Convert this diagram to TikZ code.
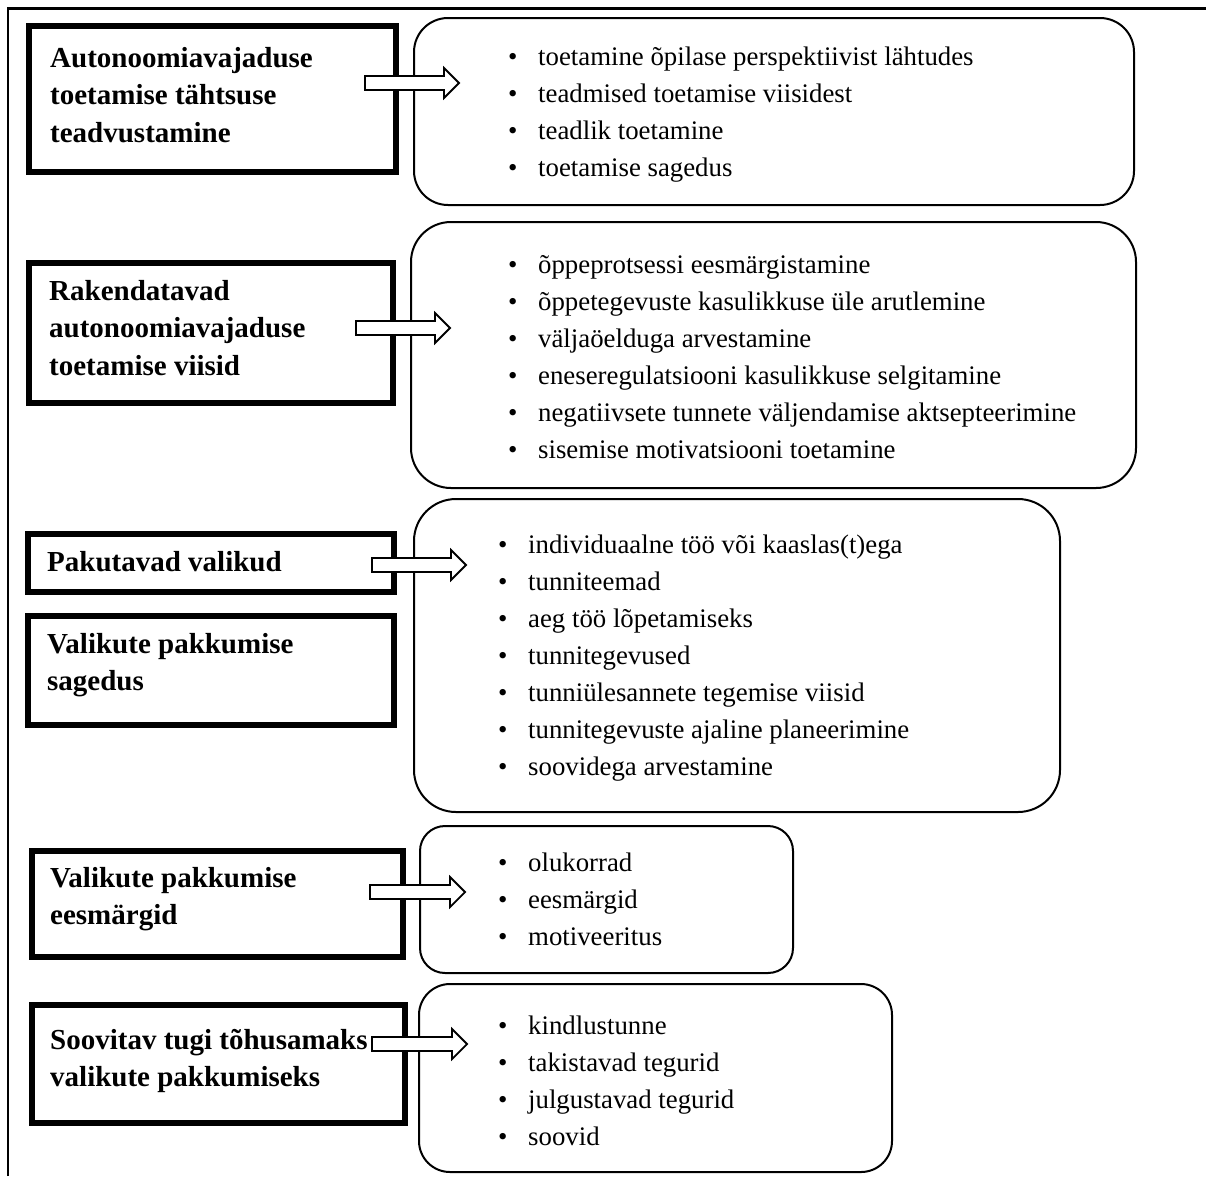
\documentclass[tikz,border=0pt]{standalone}
\usepackage{fontspec}
\setmainfont{Liberation Serif}
\usetikzlibrary{calc}
\tikzset{
  thickbox/.style={draw, line width=6pt, anchor=north west, inner sep=0pt},
  roundbox/.style={draw, line width=2pt, rounded corners=#1, anchor=north west, inner sep=0pt},
  blockarrow/.style={draw, line width=1.8pt, fill=white, line join=miter},
  headtext/.style={font=\fontsize{29}{37.5}\selectfont\bfseries, anchor=base west, inner sep=0pt},
  itemtext/.style={font=\fontsize{26.8}{37}\selectfont, anchor=base west, inner sep=0pt},
  frame/.style={line width=2.2pt}
}
\newcommand\blockarr[2]{%
  \draw[blockarrow] ($(#1)+(0,-7)$) -- ($(#2)+(-15,-7)$) -- ($(#2)+(-15,-15)$) -- (#2)
    -- ($(#2)+(-15,15)$) -- ($(#2)+(-15,7)$) -- ($(#1)+(0,7)$) -- cycle;}
\begin{document}
\begin{tikzpicture}[x=1pt,y=-1pt]
\useasboundingbox (0,0) rectangle (1206,1176);
% outer frame
\draw[frame] (8,1176) -- (8,8.5) -- (1206,8.5);

% thick boxes
\node[thickbox, minimum width=367, minimum height=146] (b1) at (26,23) {};
\node[thickbox, minimum width=364, minimum height=140] (b2) at (26,260) {};
\node[thickbox, minimum width=366, minimum height=58] (b3) at (25,531) {};
\node[thickbox, minimum width=366, minimum height=109] (b4) at (25,613) {};
\node[thickbox, minimum width=371, minimum height=106] (b5) at (29,848) {};
\node[thickbox, minimum width=373, minimum height=118] (b6) at (29,1002) {};

% rounded boxes
\node[roundbox=34, minimum width=720, minimum height=187] (r1) at (413,17) {};
\node[roundbox=40, minimum width=725, minimum height=266] (r2) at (410,221) {};
\node[roundbox=42, minimum width=646, minimum height=313] (r3) at (413,498) {};
\node[roundbox=25, minimum width=373, minimum height=147] (r4) at (419,825) {};
\node[roundbox=31, minimum width=473, minimum height=188] (r5) at (418,983) {};

% heading texts
\node[headtext] (t1) at (50,67) {\begin{tabular}[t]{@{}l@{}}Autonoomiavajaduse\\toetamise tähtsuse\\teadvustamine\end{tabular}};
\node[headtext] (t2) at (49,300) {\begin{tabular}[t]{@{}l@{}}Rakendatavad\\autonoomiavajaduse\\toetamise viisid\end{tabular}};
\node[headtext] (t3) at (47,571) {Pakutavad valikud};
\node[headtext] (t4) at (47,653) {\begin{tabular}[t]{@{}l@{}}Valikute pakkumise\\sagedus\end{tabular}};
\node[headtext] (t5) at (50,887) {\begin{tabular}[t]{@{}l@{}}Valikute pakkumise\\eesmärgid\end{tabular}};
\node[headtext] (t6) at (50,1049) {\begin{tabular}[t]{@{}l@{}}Soovitav tugi tõhusamaks\\valikute pakkumiseks\end{tabular}};

% item lists
\node[itemtext] (l1) at (508,65.5) {\begin{tabular}[t]{@{}p{30pt}@{}l@{}}
•& toetamine õpilase perspektiivist lähtudes\\
•& teadmised toetamise viisidest\\
•& teadlik toetamine\\
•& toetamise sagedus\end{tabular}};
\node[itemtext] (l2) at (508,273.5) {\begin{tabular}[t]{@{}p{30pt}@{}l@{}}
•& õppeprotsessi eesmärgistamine\\
•& õppetegevuste kasulikkuse üle arutlemine\\
•& väljaöelduga arvestamine\\
•& eneseregulatsiooni kasulikkuse selgitamine\\
•& negatiivsete tunnete väljendamise aktsepteerimine\\
•& sisemise motivatsiooni toetamine\end{tabular}};
\node[itemtext] (l3) at (498,553.5) {\begin{tabular}[t]{@{}p{30pt}@{}l@{}}
•& individuaalne töö või kaaslas(t)ega\\
•& tunniteemad\\
•& aeg töö lõpetamiseks\\
•& tunnitegevused\\
•& tunniülesannete tegemise viisid\\
•& tunnitegevuste ajaline planeerimine\\
•& soovidega arvestamine\end{tabular}};
\node[itemtext] (l4) at (498,871) {\begin{tabular}[t]{@{}p{30pt}@{}l@{}}
•& olukorrad\\
•& eesmärgid\\
•& motiveeritus\end{tabular}};
\node[itemtext] (l5) at (498,1034) {\begin{tabular}[t]{@{}p{30pt}@{}l@{}}
•& kindlustunne\\
•& takistavad tegurid\\
•& julgustavad tegurid\\
•& soovid\end{tabular}};

% arrows
\coordinate (a1s) at (365,83);  \coordinate (a1t) at (459,83);
\coordinate (a2s) at (356,328); \coordinate (a2t) at (450,328);
\coordinate (a3s) at (372,565); \coordinate (a3t) at (466,565);
\coordinate (a5s) at (370,892); \coordinate (a5t) at (465,892);
\coordinate (a6s) at (372,1044); \coordinate (a6t) at (467,1044);
\blockarr{a1s}{a1t}
\blockarr{a2s}{a2t}
\blockarr{a3s}{a3t}
\blockarr{a5s}{a5t}
\blockarr{a6s}{a6t}
\end{tikzpicture}
\end{document}
